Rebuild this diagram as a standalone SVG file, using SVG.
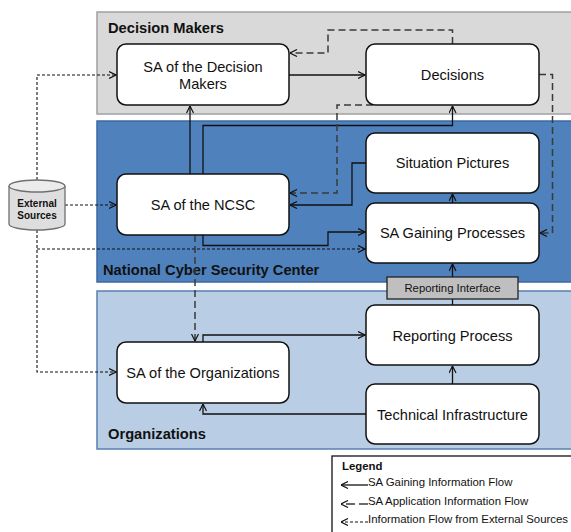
<svg xmlns="http://www.w3.org/2000/svg" width="571" height="532" viewBox="0 0 571 532">
<style>
.node{fill:#fff;stroke:#111;stroke-width:1.5}
.lbl{font-family:"Liberation Sans",Arial,sans-serif;font-size:14.6px;fill:#111;text-anchor:middle}
.title{font-family:"Liberation Sans",Arial,sans-serif;font-size:14.7px;font-weight:bold;fill:#111}
.solid{fill:none;stroke:#111;stroke-width:1.3}
.app{fill:none;stroke:#3a3a3a;stroke-width:1.5;stroke-dasharray:7 4}
.ext{fill:none;stroke:#111;stroke-width:1.1;stroke-dasharray:3 2}
.leg{font-family:"Liberation Sans",Arial,sans-serif;font-size:11.4px;fill:#111}
</style>
<defs>
<marker id="ah" viewBox="0 0 8 8" refX="7.5" refY="4" markerWidth="8" markerHeight="8" markerUnits="userSpaceOnUse" orient="auto">
<path d="M0.5,0.5 L7.5,4 L0.5,7.5" fill="none" stroke="#111" stroke-width="1.2"/>
</marker>
</defs>
<rect width="571" height="532" fill="#fff"/>
<g id="panel-decision-makers">
<rect x="97" y="12" width="480" height="102" fill="#d9d9d9" stroke="#a0a0a0" stroke-width="1.5"/>
<text class="title" x="108" y="33">Decision Makers</text>
</g>
<g id="panel-ncsc">
<rect x="97" y="121" width="480" height="161" fill="#4f81bd" stroke="#3d68a3" stroke-width="1.5"/>
<text class="title" x="103" y="275">National Cyber Security Center</text>
</g>
<g id="panel-organizations">
<rect x="97" y="291" width="480" height="158" fill="#b9cde5" stroke="#5a7fb0" stroke-width="1.5"/>
<text class="title" x="108" y="439">Organizations</text>
</g>
<g id="connectors">
<path class="ext" d="M37,180 V75 H116" marker-end="url(#ah)"/>
<path class="ext" d="M65,205 H116" marker-end="url(#ah)"/>
<path class="ext" d="M37,230 V372 H116" marker-end="url(#ah)"/>
<path class="ext" d="M37,249 H365" marker-end="url(#ah)"/>
<path class="solid" d="M190,174 V106" marker-end="url(#ah)"/>
<path class="solid" d="M203,174 V125.5 H452.5 V106" marker-end="url(#ah)"/>
<path class="solid" d="M289,75 H365" marker-end="url(#ah)"/>
<path class="app" d="M452.5,44 V30 H328 V53 H290" marker-end="url(#ah)"/>
<path class="app" d="M373,105 H337 V193 H290" marker-end="url(#ah)"/>
<path class="solid" d="M366,163 H352 V205 H290" marker-end="url(#ah)"/>
<path class="solid" d="M203,235 V245.5 H328 V232 H365" marker-end="url(#ah)"/>
<path class="app" d="M539,74.5 H552.5 V233 H540" marker-end="url(#ah)"/>
<path class="solid" d="M452.5,203 V194" marker-end="url(#ah)"/>
<path class="solid" d="M452.5,305 V264" marker-end="url(#ah)"/>
<path class="solid" d="M452.5,384 V366" marker-end="url(#ah)"/>
<path class="app" d="M195,235 V341" marker-end="url(#ah)"/>
<path class="solid" d="M203,342 V335 H365" marker-end="url(#ah)"/>
<path class="solid" d="M366,414 H203 V404" marker-end="url(#ah)"/>
</g>
<g id="external-sources">
<path d="M9,186 V224 A28,6 0 0 0 65,224 V186" fill="#dedede" stroke="#707070" stroke-width="1.3"/>
<ellipse cx="37" cy="186" rx="28" ry="6" fill="#ececec" stroke="#707070" stroke-width="1.3"/>
<text x="37" y="207" font-family="'Liberation Sans',Arial,sans-serif" font-size="10px" font-weight="bold" text-anchor="middle" fill="#111">External</text>
<text x="37" y="219" font-family="'Liberation Sans',Arial,sans-serif" font-size="10px" font-weight="bold" text-anchor="middle" fill="#111">Sources</text>
</g>
<g id="sa-decision-makers">
<rect class="node" x="117" y="44" width="172" height="61" rx="9"/>
<text class="lbl" x="203" y="72">SA of the Decision</text>
<text class="lbl" x="203" y="89">Makers</text>
</g>
<g id="decisions">
<rect class="node" x="366" y="44" width="173" height="61" rx="9"/>
<text class="lbl" x="452.5" y="80">Decisions</text>
</g>
<g id="sa-ncsc">
<rect class="node" x="117" y="174" width="172" height="61" rx="9"/>
<text class="lbl" x="203" y="210">SA of the NCSC</text>
</g>
<g id="situation-pictures">
<rect class="node" x="366" y="133" width="173" height="60" rx="9"/>
<text class="lbl" x="452.5" y="168">Situation Pictures</text>
</g>
<g id="sa-gaining-processes">
<rect class="node" x="366" y="203" width="173" height="60" rx="9"/>
<text class="lbl" x="452.5" y="238">SA Gaining Processes</text>
</g>
<g id="reporting-interface">
<rect x="387" y="277" width="131" height="22" fill="#bfbfbf" stroke="#222" stroke-width="1.3"/>
<text x="452.5" y="292" font-family="'Liberation Sans',Arial,sans-serif" font-size="11.3px" text-anchor="middle" fill="#111">Reporting Interface</text>
</g>
<g id="reporting-process">
<rect class="node" x="366" y="305" width="173" height="60" rx="9"/>
<text class="lbl" x="452.5" y="341">Reporting Process</text>
</g>
<g id="sa-organizations">
<rect class="node" x="117" y="342" width="172" height="61" rx="9"/>
<text class="lbl" x="203" y="378">SA of the Organizations</text>
</g>
<g id="technical-infrastructure">
<rect class="node" x="366" y="384" width="173" height="60" rx="9"/>
<text class="lbl" x="452.5" y="420">Technical Infrastructure</text>
</g>
<g id="legend">
<rect x="332" y="456" width="250" height="90" fill="#fff" stroke="#111" stroke-width="1.3"/>
<text x="342" y="470" font-family="'Liberation Sans',Arial,sans-serif" font-size="11.4px" font-weight="bold" fill="#111">Legend</text>
<path class="solid" d="M368,485 H341" marker-end="url(#ah)"/>
<text class="leg" x="368" y="486">SA Gaining Information Flow</text>
<path d="M368,504 H341" fill="none" stroke="#3a3a3a" stroke-width="1.3" stroke-dasharray="9 4" marker-end="url(#ah)"/>
<text class="leg" x="368" y="505">SA Application Information Flow</text>
<path d="M368,522 H341" fill="none" stroke="#111" stroke-width="1.1" stroke-dasharray="3 2" marker-end="url(#ah)"/>
<text class="leg" x="368" y="523">Information Flow from External Sources</text>
</g>
</svg>
